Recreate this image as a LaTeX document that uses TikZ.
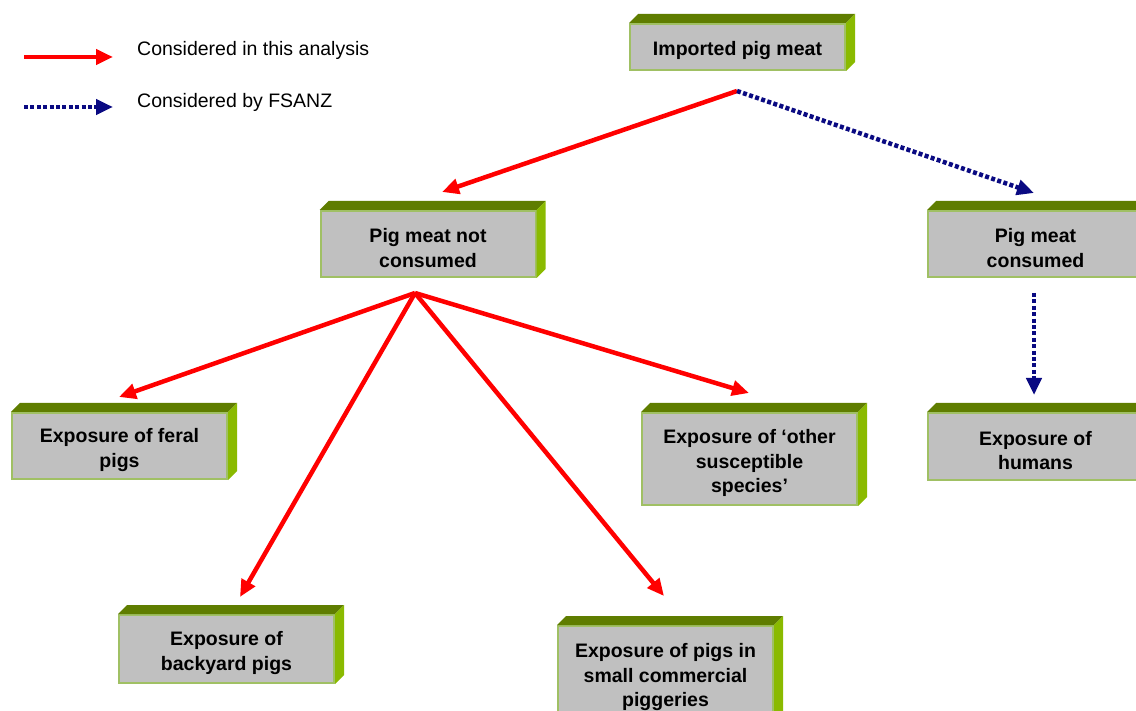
\documentclass[tikz,border=0pt]{standalone}
\usepackage{fontspec}
\setmainfont{Liberation Sans}
\usetikzlibrary{arrows.meta,calc}
\definecolor{frontc}{RGB}{192,192,192}
\definecolor{edgec}{RGB}{160,192,100}
\definecolor{topc}{RGB}{95,125,0}
\definecolor{sidec}{RGB}{138,186,0}
\definecolor{navyc}{RGB}{10,10,130}
\tikzset{
  box/.style={draw=edgec, line width=2pt, fill=frontc, minimum width=215pt, inner sep=0pt},
  boxtext/.style={align=center, inner sep=0pt, yshift=-4pt,
    font=\fontsize{19.5}{24.5}\selectfont\bfseries},
  redarrow/.style={draw=red, line width=4.5pt, -{Triangle[length=17pt,width=15pt]}},
  bluearrow/.style={draw=navyc, line width=4.5pt, dash pattern=on 4pt off 2.4pt,
    -{Triangle[length=17pt,width=15pt]}},
  legendtext/.style={anchor=west, font=\fontsize{19.5}{24}\selectfont, inner sep=0pt}
}
\newcommand{\boxfaces}[1]{%
  \fill[topc] (#1.north west) -- ++(9,-9) -- ($(#1.north east)+(9,-9)$) -- (#1.north east) -- cycle;
  \fill[sidec] (#1.north east) -- ++(9,-9) -- ($(#1.south east)+(9,-9)$) -- (#1.south east) -- cycle;
}
\begin{document}
\begin{tikzpicture}[x=1pt,y=-1pt]
\useasboundingbox (0,0) rectangle (1136,711);

% boxes
\node[box, minimum height=46pt] (imp) at (737.5,47) {};
\node[box, minimum height=66pt] (notc) at (428,244) {};
\node[box, minimum height=66pt] (cons) at (1035.5,244) {};
\node[box, minimum height=66pt] (feral) at (119.5,446) {};
\node[box, minimum height=92pt] (other) at (749.5,459) {};
\node[box, minimum height=67pt] (humans) at (1035.5,446.5) {};
\node[box, minimum height=68pt] (backyard) at (226.5,649) {};
\node[box, minimum height=94pt] (pigg) at (665.5,673) {};

\boxfaces{imp}
\boxfaces{notc}
\boxfaces{cons}
\boxfaces{feral}
\boxfaces{other}
\boxfaces{humans}
\boxfaces{backyard}
\boxfaces{pigg}

% box texts
\node[boxtext] (impt) at (imp.center) {Imported pig meat};
\node[boxtext] (notct) at (notc.center) {Pig meat not\\consumed};
\node[boxtext] (const) at (cons.center) {Pig meat\\consumed};
\node[boxtext] (feralt) at (feral.center) {Exposure of feral\\pigs};
\node[boxtext] (othert) at (other.center) {Exposure of ‘other\\susceptible\\species’};
\node[boxtext] (humanst) at (humans.center) {Exposure of\\humans};
\node[boxtext] (backyardt) at (backyard.center) {Exposure of\\backyard pigs};
\node[boxtext] (piggt) at (pigg.center) {Exposure of pigs in\\small commercial\\piggeries};

% connector points
\coordinate (impout) at (737,91);
\coordinate (notcin) at (442,192);
\coordinate (consin) at (1034,193);
\coordinate (notcout) at (415,293);
\coordinate (feralin) at (119,397);
\coordinate (backin) at (240,597);
\coordinate (piggin) at (664,596);
\coordinate (otherin) at (749,393);
\coordinate (consout) at (1034,293);
\coordinate (humin) at (1034,395);

\draw[redarrow] (impout) -- (notcin);
\draw[bluearrow] (impout) -- (consin);
\draw[redarrow] (notcout) -- (feralin);
\draw[redarrow] (notcout) -- (backin);
\draw[redarrow] (notcout) -- (piggin);
\draw[redarrow] (notcout) -- (otherin);
\draw[bluearrow] (consout) -- (humin);

% legend
\coordinate (l1a) at (24,57);
\coordinate (l1b) at (113,57);
\coordinate (l2a) at (24,107);
\coordinate (l2b) at (113,107);
\draw[redarrow] (l1a) -- (l1b);
\draw[bluearrow] (l2a) -- (l2b);
\node[legendtext] (lt1) at (137,50) {Considered in this analysis};
\node[legendtext] (lt2) at (137,102) {Considered by FSANZ};
\end{tikzpicture}
\end{document}
